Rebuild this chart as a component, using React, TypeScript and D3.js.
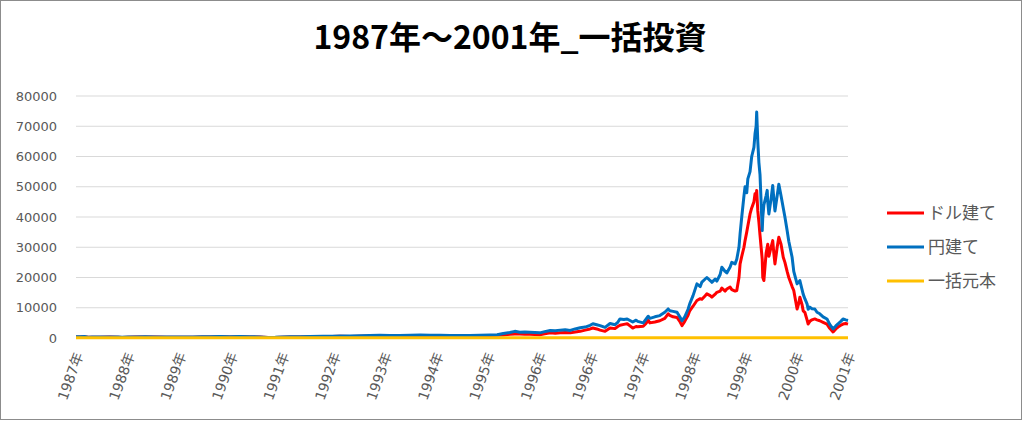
import React from "react";
import * as d3 from "d3";

const title = "1987年～2001年_一括投資";
const xLabels = ["1987年","1988年","1989年","1990年","1991年","1992年","1993年","1994年","1995年","1996年","1996年","1997年","1998年","1999年","2000年","2001年"];
const yTicks = [0,10000,20000,30000,40000,50000,60000,70000,80000];
const seriesNames = ["ドル建て","円建て","一括元本"];
const seriesColors = ["#FF0000","#0070C0","#FFC000"];

const years = [
1987.65,1987.72,1987.80,1987.87,1987.94,1988.08,1988.26,1988.41,1988.48,1988.59,1988.72,1988.90,1989.08,1989.29,1989.44,1989.62,1989.76,1989.93,1990.07,1990.25,1990.43,1990.61,1990.79,1990.97,1991.12,1991.25,1991.37,1991.52,1991.70,1991.88,1992.11,1992.28,1992.42,1992.60,1992.78,1992.96,1993.14,1993.32,1993.50,1993.69,1993.87,1994.05,1994.23,1994.41,1994.59,1994.77,1994.95,1995.13,1995.26,1995.37,1995.49,1995.58,1995.67,1995.76,1995.85,1995.94,1996.03,1996.12,1996.22,1996.31,1996.40,1996.49,1996.58,1996.67,1996.76,1996.85,1996.94,1996.99,1997.06,1997.12,1997.21,1997.30,1997.39,1997.44,1997.48,1997.55,1997.61,1997.66,1997.71,1997.77,1997.80,1997.90,1997.95,1997.99,1998.02,1998.11,1998.20,1998.29,1998.35,1998.38,1998.44,1998.51,1998.56,1998.60,1998.65,1998.71,1998.74,1998.80,1998.87,1998.93,1998.96,1999.02,1999.05,1999.11,1999.14,1999.20,1999.23,1999.29,1999.32,1999.38,1999.41,1999.47,1999.50,1999.56,1999.59,1999.63,1999.65,1999.68,1999.72,1999.74,1999.77,1999.79,1999.83,1999.86,1999.90,1999.92,1999.94,1999.95,1999.97,1999.99,2000.01,2000.03,2000.05,2000.06,2000.08,2000.12,2000.14,2000.15,2000.17,2000.21,2000.24,2000.26,2000.28,2000.32,2000.35,2000.39,2000.43,2000.46,2000.50,2000.53,2000.59,2000.62,2000.68,2000.71,2000.73,2000.77,2000.79,2000.82,2000.86,2000.88,2000.91,2000.95,2001.00,2001.04,2001.09,2001.15,2001.22,2001.27,2001.33,2001.38,2001.42,2001.47,2001.51,2001.56,2001.60
];

const yenValues = [
400,450,480,280,300,330,350,330,230,300,350,380,370,300,340,320,300,380,420,460,450,480,420,350,200,230,320,380,450,500,620,600,680,650,720,800,900,850,800,950,1000,900,950,850,800,850,900,1000,1100,1500,1800,2200,1900,2000,1900,1800,1700,2100,2500,2400,2600,2700,2500,3000,3400,3600,4200,4700,4400,4100,3500,4800,4400,5200,6300,6100,6300,5800,5300,5900,5500,5000,6200,7200,6500,7000,7400,8500,9600,9000,8800,8500,7000,5700,7000,9500,11300,14000,17900,17000,18500,19500,20000,19000,18400,19500,18800,21000,23400,22000,21500,23500,25000,24500,26000,30000,34400,40000,47000,50000,48000,52600,55000,60000,63000,67500,70000,74700,65000,58000,54000,45000,35500,40000,44000,47000,48800,45000,41000,46000,50400,46000,42000,47000,50800,47000,43000,40000,35500,32000,26700,22000,17900,18500,19000,16000,14500,13000,11300,9500,10200,9700,9600,8500,8000,7000,6300,4500,3000,4000,4700,5500,6300,6000,5800
];

const dollarValues = [
330,370,400,230,250,270,290,280,200,250,290,310,300,250,280,270,250,310,350,380,370,400,350,290,170,190,270,310,370,410,500,490,550,530,590,650,730,690,650,770,810,730,770,690,650,690,730,810,880,1000,1200,1300,1300,1250,1200,1150,1100,1400,1700,1600,1700,1800,1700,2000,2200,2600,3000,3300,3000,2600,2200,3300,3100,3800,4200,4500,4700,4000,3300,3800,3700,3900,4800,5800,5000,5300,5700,6500,8000,7500,7000,6800,5500,4100,5500,7500,9000,10500,12400,13000,12800,14000,14600,14000,13500,14500,15100,15500,16500,15500,16200,16800,16000,15500,15700,20000,24500,27000,30000,32200,35000,37000,41000,43000,45000,47700,46000,48800,42000,38300,34000,30000,26000,20000,19000,28000,30000,31000,27000,30000,32200,28000,24500,30000,33300,31000,26700,25000,22000,20000,17000,15700,9600,11500,13500,11000,9000,8500,6000,4600,5500,6000,6300,6000,5700,5200,4600,3200,2000,3000,3600,4200,4600,4800,4600
];

const principalYears = [1987.65, 2001.60];
const principalValues = [100, 100];

export default function App() {
  const W = 1024, H = 421;
  const x0 = 76, x1 = 848, yTop = 96, yBot = 338;
  const x = d3.scaleLinear().domain([years[0], years[years.length - 1]]).range([x0, x1]);
  const y = d3.scaleLinear().domain([0, 80000]).range([yBot, yTop]);
  const xl = d3.scalePoint<number>().domain(d3.range(xLabels.length)).range([x0, x1]);
  const line = d3.line<[number, number]>().x(d => x(d[0])).y(d => y(d[1]));
  const dollarPath = line(years.map((t, i) => [t, dollarValues[i]] as [number, number])) || "";
  const yenPath = line(years.map((t, i) => [t, yenValues[i]] as [number, number])) || "";
  const principalPath = line(principalYears.map((t, i) => [t, principalValues[i]] as [number, number])) || "";
  const numFont = "'DejaVu Sans', 'Noto Sans CJK JP', sans-serif";
  const jpFont = "'Noto Sans CJK JP', sans-serif";
  const paths = [dollarPath, yenPath, principalPath];
  return (
    <svg width={W} height={H} style={{ position: "absolute", left: 0, top: 0 }}>
      <rect x={0} y={0} width={W} height={H} fill="#ffffff" />
      <rect x={0.5} y={0.5} width={1021} height={419} fill="none" stroke="#8c8c8c" strokeWidth={1} />
      <text x={510} y={49} textAnchor="middle" fontFamily={jpFont} fontWeight="bold" fontSize={32} fill="#000000">{title}</text>
      {yTicks.map(v => (
        <g key={v}>
          <line x1={x0} x2={x1} y1={y(v)} y2={y(v)} stroke="#d9d9d9" strokeWidth={1} />
          <text x={57} y={y(v)} dy="0.36em" textAnchor="end" fontFamily={numFont} fontSize={13} fill="#595959">{v}</text>
        </g>
      ))}
      {xLabels.map((lab, i) => (
        <text key={i} transform={`translate(${(xl(i) as number) + 3},353) rotate(-70)`} dy="0.35em" textAnchor="end" fontFamily={numFont} fontSize={14} fill="#595959">{lab}</text>
      ))}
      {paths.map((p, i) => (
        <path key={i} d={p} fill="none" stroke={seriesColors[i]} strokeWidth={3} strokeLinejoin="round" />
      ))}
      {seriesNames.map((n, i) => (
        <g key={n} transform={`translate(0,${213 + i * 34})`}>
          <line x1={887} x2={924} y1={0} y2={0} stroke={seriesColors[i]} strokeWidth={3} />
          <text x={928} y={0} dy="0.36em" fontFamily={jpFont} fontSize={17} fill="#595959">{n}</text>
        </g>
      ))}
    </svg>
  );
}
